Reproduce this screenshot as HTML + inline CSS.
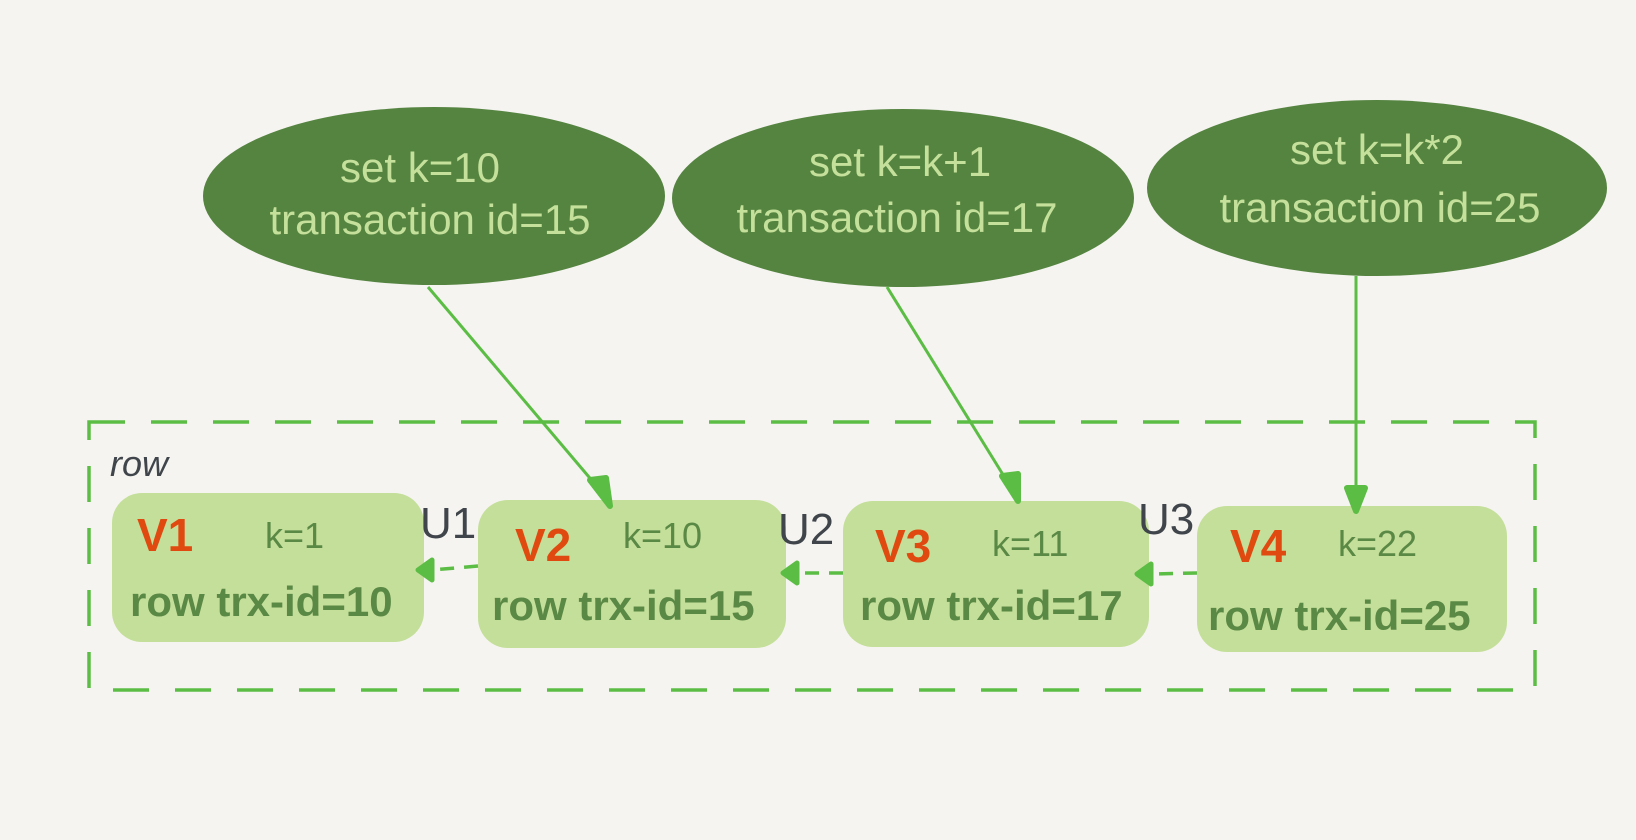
<!DOCTYPE html>
<html><head><meta charset="utf-8"><style>
html,body{margin:0;padding:0;background:#f5f4f0;}
svg{display:block;}
text{font-family:"Liberation Sans Narrow","Liberation Sans",sans-serif;}
</style></head><body>
<svg width="1636" height="840" viewBox="0 0 1636 840" xmlns="http://www.w3.org/2000/svg">
<rect width="1636" height="840" fill="#f5f4f0"/>
<!-- ellipses -->
<ellipse cx="434" cy="196" rx="231" ry="89" fill="#558441"/>
<ellipse cx="903" cy="198" rx="231" ry="89" fill="#558441"/>
<ellipse cx="1377" cy="188" rx="230" ry="88" fill="#558441"/>
<g fill="#c4e09a" font-size="42" text-anchor="middle">
<text x="420" y="182">set k=10</text>
<text x="430" y="234">transaction id=15</text>
<text x="900" y="176">set k=k+1</text>
<text x="897" y="232">transaction id=17</text>
<text x="1377" y="164">set k=k*2</text>
<text x="1380" y="222">transaction id=25</text>
</g>
<!-- dashed container -->
<rect x="89" y="422" width="1446" height="268" fill="none" stroke="#5cbd45" stroke-width="3.5" stroke-dasharray="36,26"/>
<text x="110" y="476" font-size="36" fill="#3f454a" font-style="italic">row</text>
<!-- version boxes -->
<g fill="#c4df9a">
<rect x="112" y="493" width="312" height="149" rx="30"/>
<rect x="478" y="500" width="308" height="148" rx="30"/>
<rect x="843" y="501" width="306" height="146" rx="30"/>
<rect x="1197" y="506" width="310" height="146" rx="30"/>
</g>
<!-- arrows from ellipses -->
<g stroke="#5cbd45" stroke-width="3" fill="#5cbd45">
<line x1="428" y1="287" x2="600" y2="490"/>
<polygon points="610,506 590,480 606,478" stroke-width="6" stroke-linejoin="round"/>
<line x1="887" y1="287" x2="1010" y2="486"/>
<polygon points="1018,501 1002,476 1018,474" stroke-width="6" stroke-linejoin="round"/>
<line x1="1356" y1="276" x2="1356" y2="494"/>
<polygon points="1356,511 1347,488 1365,488" stroke-width="6" stroke-linejoin="round"/>
</g>
<!-- dashed back arrows -->
<g stroke="#5cbd45" stroke-width="3.5" fill="#5cbd45">
<line x1="478" y1="566" x2="432" y2="570" stroke-dasharray="14,10"/>
<polygon points="418,570 432,560 432,580" stroke-width="5" stroke-linejoin="round"/>
<line x1="843" y1="573" x2="798" y2="573" stroke-dasharray="14,10"/>
<polygon points="783,573 797,563 797,583" stroke-width="5" stroke-linejoin="round"/>
<line x1="1197" y1="573" x2="1152" y2="574" stroke-dasharray="14,10"/>
<polygon points="1137,574 1151,564 1151,584" stroke-width="5" stroke-linejoin="round"/>
</g>
<!-- U labels -->
<g fill="#3f454a" font-size="44">
<text x="420" y="538">U1</text>
<text x="778" y="544">U2</text>
<text x="1138" y="534">U3</text>
</g>
<!-- V labels -->
<g fill="#e04a10" font-size="46" font-weight="bold">
<text x="137" y="551">V1</text>
<text x="515" y="561">V2</text>
<text x="875" y="562">V3</text>
<text x="1230" y="562">V4</text>
</g>
<g fill="#5a8845" font-size="36">
<text x="265" y="548">k=1</text>
<text x="623" y="548">k=10</text>
<text x="992" y="556">k=11</text>
<text x="1338" y="556">k=22</text>
</g>
<g fill="#5a8845" font-size="42" font-weight="bold">
<text x="130" y="616">row trx-id=10</text>
<text x="492" y="620">row trx-id=15</text>
<text x="860" y="620">row trx-id=17</text>
<text x="1208" y="630">row trx-id=25</text>
</g>
</svg>
</body></html>
